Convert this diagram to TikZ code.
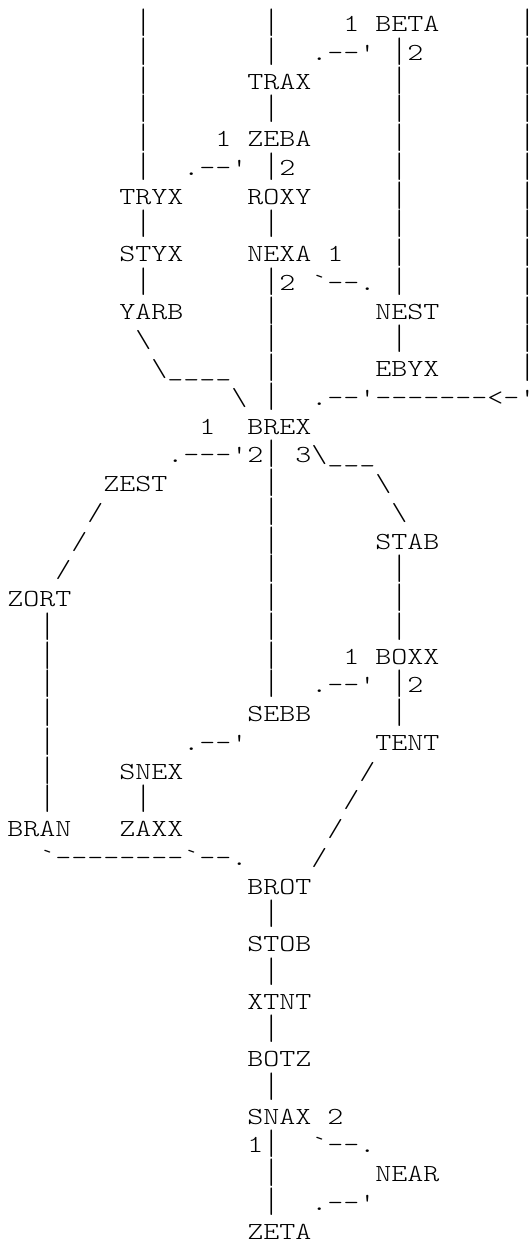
\documentclass[tikz,border=0pt]{standalone}
\usepackage{fontspec}
\newfontfamily\asc{lmmonolt10-regular.otf}[FakeStretch=1.2439]
\tikzset{txt/.style={anchor=base west,inner sep=0pt,outer sep=0pt,font=\asc\fontsize{24.5pt}{28.75pt}\selectfont}}
\newsavebox\vbbox
% vertical bar glyph, stretched so that the bars of neighbouring rows meet
\newcommand\vb{\sbox\vbbox{|}\raisebox{-5pt}{\resizebox*{\wd\vbbox}{27.6pt}{\raisebox{\dp\vbbox}{|}}}}
\newcommand\gl[3]{\node[txt] (t#1-#2) at ({7.3+16*#2},{-(31.7+28.75*#1)}) {#3};}
% last column, cut at the right edge like the reference
\newcommand\gr[2]{\node[txt] (t#1-32) at ({7.3+16*32},{-(31.7+28.75*#1)}) {\makebox[8.5pt][l]{#2}};}
\newcommand\bs{\textbackslash}
\begin{document}
\begin{tikzpicture}[x=1pt,y=1pt]
\useasboundingbox (0,0) rectangle (528,-1243);
\gl{0}{8}{\vb}\gl{0}{16}{\vb}\gl{0}{21}{1}\gl{0}{23}{BETA}\gr{0}{\vb}
\gl{1}{8}{\vb}\gl{1}{16}{\vb}\gl{1}{19}{.--'}\gl{1}{24}{\vb 2}\gr{1}{\vb}
\gl{2}{8}{\vb}\gl{2}{15}{TRAX}\gl{2}{24}{\vb}\gr{2}{\vb}
\gl{3}{8}{\vb}\gl{3}{16}{\vb}\gl{3}{24}{\vb}\gr{3}{\vb}
\gl{4}{8}{\vb}\gl{4}{13}{1}\gl{4}{15}{ZEBA}\gl{4}{24}{\vb}\gr{4}{\vb}
\gl{5}{8}{\vb}\gl{5}{11}{.--'}\gl{5}{16}{\vb 2}\gl{5}{24}{\vb}\gr{5}{\vb}
\gl{6}{7}{TRYX}\gl{6}{15}{ROXY}\gl{6}{24}{\vb}\gr{6}{\vb}
\gl{7}{8}{\vb}\gl{7}{16}{\vb}\gl{7}{24}{\vb}\gr{7}{\vb}
\gl{8}{7}{STYX}\gl{8}{15}{NEXA}\gl{8}{20}{1}\gl{8}{24}{\vb}\gr{8}{\vb}
\gl{9}{8}{\vb}\gl{9}{16}{\vb 2}\gl{9}{19}{`--.}\gl{9}{24}{\vb}\gr{9}{\vb}
\gl{10}{7}{YARB}\gl{10}{16}{\vb}\gl{10}{23}{NEST}\gr{10}{\vb}
\gl{11}{8}{\bs}\gl{11}{16}{\vb}\gl{11}{24}{\vb}\gr{11}{\vb}
\gl{12}{9}{\bs\_\_\_\_}\gl{12}{16}{\vb}\gl{12}{23}{EBYX}\gr{12}{\vb}
\gl{13}{14}{\bs}\gl{13}{16}{\vb}\gl{13}{19}{.--'-------<-}\gr{13}{'}
\gl{14}{12}{1}\gl{14}{15}{BREX}
\gl{15}{10}{.---'2\vb}\gl{15}{18}{3\bs\_\_\_}
\gl{16}{6}{ZEST}\gl{16}{16}{\vb}\gl{16}{23}{\bs}
\gl{17}{5}{/}\gl{17}{16}{\vb}\gl{17}{24}{\bs}
\gl{18}{4}{/}\gl{18}{16}{\vb}\gl{18}{23}{STAB}
\gl{19}{3}{/}\gl{19}{16}{\vb}\gl{19}{24}{\vb}
\gl{20}{0}{ZORT}\gl{20}{16}{\vb}\gl{20}{24}{\vb}
\gl{21}{2}{\vb}\gl{21}{16}{\vb}\gl{21}{24}{\vb}
\gl{22}{2}{\vb}\gl{22}{16}{\vb}\gl{22}{21}{1}\gl{22}{23}{BOXX}
\gl{23}{2}{\vb}\gl{23}{16}{\vb}\gl{23}{19}{.--'}\gl{23}{24}{\vb 2}
\gl{24}{2}{\vb}\gl{24}{15}{SEBB}\gl{24}{24}{\vb}
\gl{25}{2}{\vb}\gl{25}{11}{.--'}\gl{25}{23}{TENT}
\gl{26}{2}{\vb}\gl{26}{7}{SNEX}\gl{26}{22}{/}
\gl{27}{2}{\vb}\gl{27}{8}{\vb}\gl{27}{21}{/}
\gl{28}{0}{BRAN}\gl{28}{7}{ZAXX}\gl{28}{20}{/}
\gl{29}{2}{`--------`--.}\gl{29}{19}{/}
\gl{30}{15}{BROT}
\gl{31}{16}{\vb}
\gl{32}{15}{STOB}
\gl{33}{16}{\vb}
\gl{34}{15}{XTNT}
\gl{35}{16}{\vb}
\gl{36}{15}{BOTZ}
\gl{37}{16}{\vb}
\gl{38}{15}{SNAX}\gl{38}{20}{2}
\gl{39}{15}{1\vb}\gl{39}{19}{`--.}
\gl{40}{16}{\vb}\gl{40}{23}{NEAR}
\gl{41}{16}{\vb}\gl{41}{19}{.--'}
\gl{42}{15}{ZETA}
\end{tikzpicture}
\end{document}
